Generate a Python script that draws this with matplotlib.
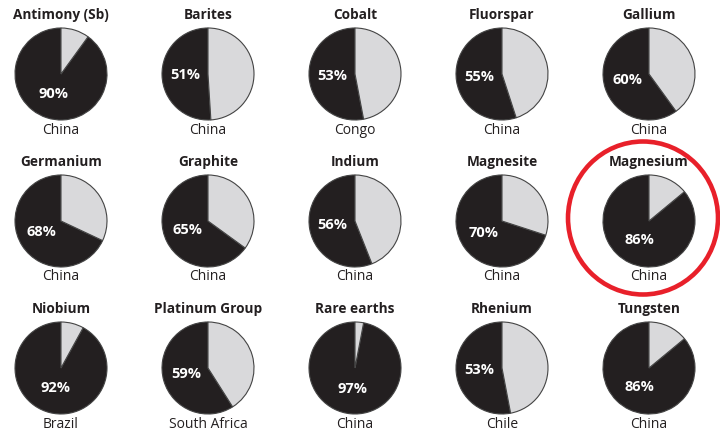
import numpy as np
import matplotlib
matplotlib.use('Agg')
import matplotlib.pyplot as plt
from matplotlib.patches import Ellipse

minerals = ['Antimony (Sb)', 'Barites', 'Cobalt', 'Fluorspar', 'Gallium',
            'Germanium', 'Graphite', 'Indium', 'Magnesite', 'Magnesium',
            'Niobium', 'Platinum Group', 'Rare earths', 'Rhenium', 'Tungsten']
shares = [90, 51, 53, 55, 60, 68, 65, 56, 70, 86, 92, 59, 97, 53, 86]
countries = ['China', 'China', 'Congo', 'China', 'China',
             'China', 'China', 'China', 'China', 'China',
             'Brazil', 'South Africa', 'China', 'Chile', 'China']
highlight = 'Magnesium'

dark = '#231f20'
light = '#d9d9db'

plt.rcParams['font.family'] = ['Open Sans', 'DejaVu Sans']

W, H = 720, 434
fig = plt.figure(figsize=(W / 100, H / 100), dpi=100)

r_px = 46
box = 94  # px, pie axes size
for i, (name, share, country) in enumerate(zip(minerals, shares, countries)):
    row, col = divmod(i, 5)
    cx = 61 + 147 * col
    cy = 74 + 147 * row
    ax = fig.add_axes([(cx - box / 2) / W, (H - cy - box / 2) / H, box / W, box / H])
    wedges, _ = ax.pie([share, 100 - share], colors=[dark, light], startangle=90,
                       counterclock=True,
                       wedgeprops=dict(edgecolor='#444444', linewidth=0.8))
    lim = box / 2 / r_px
    ax.set_xlim(-lim, lim)
    ax.set_ylim(-lim, lim)
    ax.set_aspect('equal')
    ax.axis('off')

    # percentage label at the middle of the dark wedge
    w = wedges[0]
    mid = np.deg2rad((w.theta1 + w.theta2) / 2)
    ax.text(0.5 * np.cos(mid), 0.45 * np.sin(mid), f'{share}%',
            color='white', fontsize=10.5, fontweight='bold', ha='center', va='center')

    ax.text(0, 59 / r_px, name, fontsize=9.8, fontweight='bold', color=dark,
            ha='center', va='center', clip_on=False)
    ax.text(0, -56 / r_px, country, fontsize=10, color=dark,
            ha='center', va='center', clip_on=False)

    if name == highlight:
        ov = fig.add_axes([0, 0, 1, 1], zorder=10)
        ov.set_xlim(0, W)
        ov.set_ylim(H, 0)
        ov.axis('off')
        ov.patch.set_alpha(0)
        ov.add_patch(Ellipse((cx - 6, cy - 3), 150, 153, fill=False,
                             edgecolor='#e8202a', linewidth=3.3))

fig.savefig('out.png', dpi=100)
